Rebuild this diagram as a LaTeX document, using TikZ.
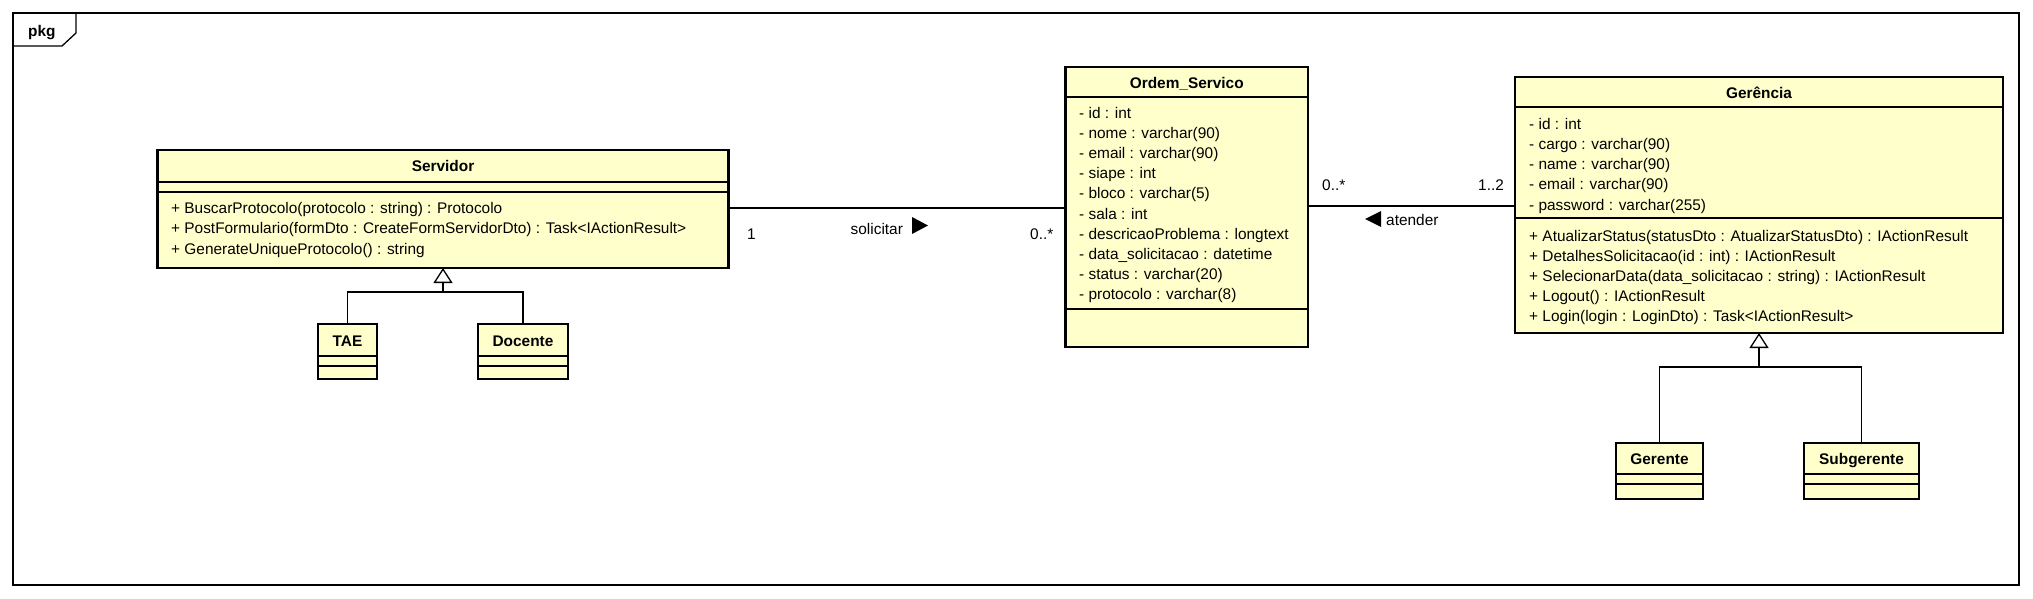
\documentclass[tikz,border=0pt]{standalone}
\usepackage{fontspec}
\setmainfont{Liberation Sans}
\usetikzlibrary{arrows.meta}
\definecolor{clsfill}{HTML}{FFFFCC}
\begin{document}
\begin{tikzpicture}[x=1pt,y=-1pt,
  every node/.style={font=\fontsize{15.4}{20}\selectfont},
  cls/.style={draw, line width=2.8pt, fill=clsfill, inner sep=0pt, outer sep=0pt},
  sepline/.style={line width=1.3pt},
  ctitle/.style={font=\fontsize{15.4}{20}\selectfont\bfseries, anchor=base, inner sep=0pt},
  member/.style={anchor=base west, inner sep=0pt},
  conn/.style={line width=1.3pt},
  gentip/.style={-{Triangle[open,length=15pt,width=19pt,line width=1.3pt]}}
]
\useasboundingbox (0,0) rectangle (2033,598);

% frame
\node[draw, line width=1.3pt, minimum width=2006pt, minimum height=572pt, inner sep=0pt, outer sep=0pt] (frame) at (1016,299) {};
\draw[line width=1.3pt] ([xshift=63pt]frame.north west) -- ++(0,20) -- ++(-14,13) -- (frame.north west |- 0,46);
\node[ctitle, anchor=base west] (pkg) at (28,36) {pkg};

% Servidor
\node[cls, minimum width=571pt, minimum height=118pt] (serv) at (443,209) {};
\draw[sepline] (serv.west |- 0,182) -- (serv.east |- 0,182);
\draw[sepline] (serv.west |- 0,192) -- (serv.east |- 0,192);
\node[ctitle] (servT) at (443,171.5) {Servidor};
\foreach \t [count=\i] in {%
  + BuscarProtocolo(protocolo : string) : Protocolo,
  + PostFormulario(formDto : CreateFormServidorDto) : Task<IActionResult>,
  + GenerateUniqueProtocolo() : string}
  \node[member] (servM\i) at (171,213.5+20.25*\i-20.25) {\t};

% TAE, Docente
\node[cls, minimum width=59pt, minimum height=55pt] (tae) at (347.5,351.5) {};
\draw[sepline] (tae.west |- 0,356) -- (tae.east |- 0,356);
\draw[sepline] (tae.west |- 0,366) -- (tae.east |- 0,366);
\node[ctitle] (taeT) at (347.5,346) {TAE};
\node[cls, minimum width=90pt, minimum height=55pt] (doc) at (523,351.5) {};
\draw[sepline] (doc.west |- 0,356) -- (doc.east |- 0,356);
\draw[sepline] (doc.west |- 0,366) -- (doc.east |- 0,366);
\node[ctitle] (docT) at (523,346) {Docente};

\coordinate (sj) at (443,292);
\draw[conn] (tae.north) |- (sj) -| (doc.north);
\draw[conn, gentip] (sj) -- (serv.south);

% Ordem_Servico
\node[cls, minimum width=242.5pt, minimum height=280pt] (ord) at (1186.75,207) {};
\draw[sepline] (ord.west |- 0,97) -- (ord.east |- 0,97);
\draw[sepline] (ord.west |- 0,309) -- (ord.east |- 0,309);
\node[ctitle] (ordT) at (1186.75,88) {Ordem\_Servico};
\foreach \t [count=\i] in {%
  - id : int,
  - nome : varchar(90),
  - email : varchar(90),
  - siape : int,
  - bloco : varchar(5),
  - sala : int,
  - descricaoProblema : longtext,
  - data\_solicitacao : datetime,
  - status : varchar(20),
  - protocolo : varchar(8)}
  \node[member] (ordA\i) at (1079,118+20.2*\i-20.2) {\t};

% Gerencia
\node[cls, minimum width=488pt, minimum height=256pt] (gerc) at (1759,205) {};
\draw[sepline] (gerc.west |- 0,107) -- (gerc.east |- 0,107);
\draw[sepline] (gerc.west |- 0,218) -- (gerc.east |- 0,218);
\node[ctitle] (gercT) at (1759,98) {Gerência};
\foreach \t [count=\i] in {%
  - id : int,
  - cargo : varchar(90),
  - name : varchar(90),
  - email : varchar(90),
  - password : varchar(255)}
  \node[member] (gercA\i) at (1529,129+20.3*\i-20.3) {\t};
\foreach \t [count=\i] in {%
  + AtualizarStatus(statusDto : AtualizarStatusDto) : IActionResult,
  + DetalhesSolicitacao(id : int) : IActionResult,
  + SelecionarData(data\_solicitacao : string) : IActionResult,
  + Logout() : IActionResult,
  + Login(login : LoginDto) : Task<IActionResult>}
  \node[member] (gercM\i) at (1529,241+20.1*\i-20.1) {\t};

% Gerente, Subgerente
\node[cls, minimum width=87pt, minimum height=56pt] (gte) at (1659.5,471) {};
\draw[sepline] (gte.west |- 0,474) -- (gte.east |- 0,474);
\draw[sepline] (gte.west |- 0,484) -- (gte.east |- 0,484);
\node[ctitle] (gteT) at (1659.5,464.5) {Gerente};
\node[cls, minimum width=115pt, minimum height=56pt] (sub) at (1861.5,471) {};
\draw[sepline] (sub.west |- 0,474) -- (sub.east |- 0,474);
\draw[sepline] (sub.west |- 0,484) -- (sub.east |- 0,484);
\node[ctitle] (subT) at (1861.5,464.5) {Subgerente};

\coordinate (gj) at (1759,367);
\draw[conn] (gte.north) |- (gj) -| (sub.north);
\draw[conn, gentip] (gj) -- (gerc.south);

% associations
\draw[conn] (serv.east |- 0,208) -- (ord.west |- 0,208);
\node[member] (m1) at (747,239) {1};
\node[member] (sol) at (850.5,234) {solicitar};
\fill (912,217) -- (928,225.5) -- (912,234) -- cycle;
\node[member] (m2) at (1030,239) {0..*};

\draw[conn] (ord.east |- 0,206) -- (gerc.west |- 0,206);
\node[member] (m3) at (1322,190) {0..*};
\node[member] (m4) at (1478,190) {1..2};
\fill (1381,211) -- (1365,219) -- (1381,227) -- cycle;
\node[member] (att) at (1386,225) {atender};
\end{tikzpicture}
\end{document}
